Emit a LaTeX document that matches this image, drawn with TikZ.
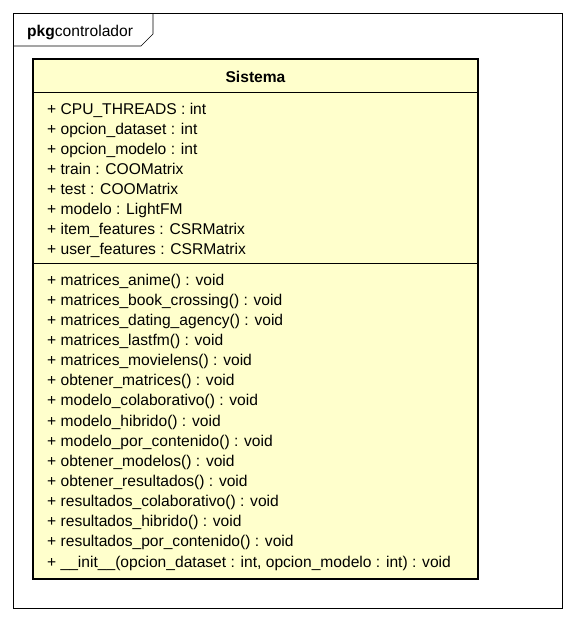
\documentclass[tikz,border=0pt]{standalone}
\usepackage{fontspec}
\setmainfont{Liberation Sans}
\usepackage{tikz}
\usetikzlibrary{positioning}
\definecolor{classfill}{RGB}{255,255,204}

\begin{document}
\begin{tikzpicture}[
                x=1pt, y=-1pt,
                member/.style={anchor=base west, inner sep=0pt, font=\fontsize{15.6}{18}\selectfont},
                title/.style={anchor=base, inner sep=0pt, font=\fontsize{15.6}{18}\selectfont\bfseries}
            ]
            \useasboundingbox (0,0) rectangle (576,621);

            % package frame
            \draw[semithick] (13,13) rectangle (562,608);
            \draw[semithick] (13,46) -- (141,46) -- (153,34) -- (153,13);
            \node[member] (pkgname) at (27,36) {\textbf{pkg}controlador};

            % class box
            \draw[fill=classfill, line width=2.6pt] (33,59) rectangle (478,579);
            \coordinate (sep1l) at (33,92);
            \coordinate (sep1r) at (478,92);
            \coordinate (sep2l) at (33,263);
            \coordinate (sep2r) at (478,263);
            \draw[semithick] (sep1l) -- (sep1r);
            \draw[semithick] (sep2l) -- (sep2r);

            \node[title] (Sistema) at (255.5,82) {Sistema};

            \node[member] (CPU_THREADS) at (47,114) {+ CPU\_THREADS : int};
            \node[member] (opcion_dataset) at (47,134.1) {+ opcion\_dataset : int};
            \node[member] (opcion_modelo) at (47,154.2) {+ opcion\_modelo : int};
            \node[member] (train) at (47,174.3) {+ train : COOMatrix};
            \node[member] (test) at (47,194.4) {+ test : COOMatrix};
            \node[member] (modelo) at (47,214.5) {+ modelo : LightFM};
            \node[member] (item_features) at (47,234.6) {+ item\_features : CSRMatrix};
            \node[member] (user_features) at (47,254.7) {+ user\_features : CSRMatrix};

            \node[member] (m_anime) at (47,285) {+ matrices\_anime() : void};
            \node[member] (m_book) at (47,305.1) {+ matrices\_book\_crossing() : void};
            \node[member] (m_dating) at (47,325.3) {+ matrices\_dating\_agency() : void};
            \node[member] (m_lastfm) at (47,345.4) {+ matrices\_lastfm() : void};
            \node[member] (m_movielens) at (47,365.6) {+ matrices\_movielens() : void};
            \node[member] (o_matrices) at (47,385.7) {+ obtener\_matrices() : void};
            \node[member] (mod_colab) at (47,405.8) {+ modelo\_colaborativo() : void};
            \node[member] (mod_hibrido) at (47,426) {+ modelo\_hibrido() : void};
            \node[member] (mod_contenido) at (47,446.1) {+ modelo\_por\_contenido() : void};
            \node[member] (o_modelos) at (47,466.3) {+ obtener\_modelos() : void};
            \node[member] (o_resultados) at (47,486.4) {+ obtener\_resultados() : void};
            \node[member] (r_colab) at (47,506.5) {+ resultados\_colaborativo() : void};
            \node[member] (r_hibrido) at (47,526.7) {+ resultados\_hibrido() : void};
            \node[member] (r_contenido) at (47,546.8) {+ resultados\_por\_contenido() : void};
            \node[member] (init) at (47,567) {+ \_\_init\_\_(opcion\_dataset : int, opcion\_modelo : int) : void};
        \end{tikzpicture}
\end{document}
